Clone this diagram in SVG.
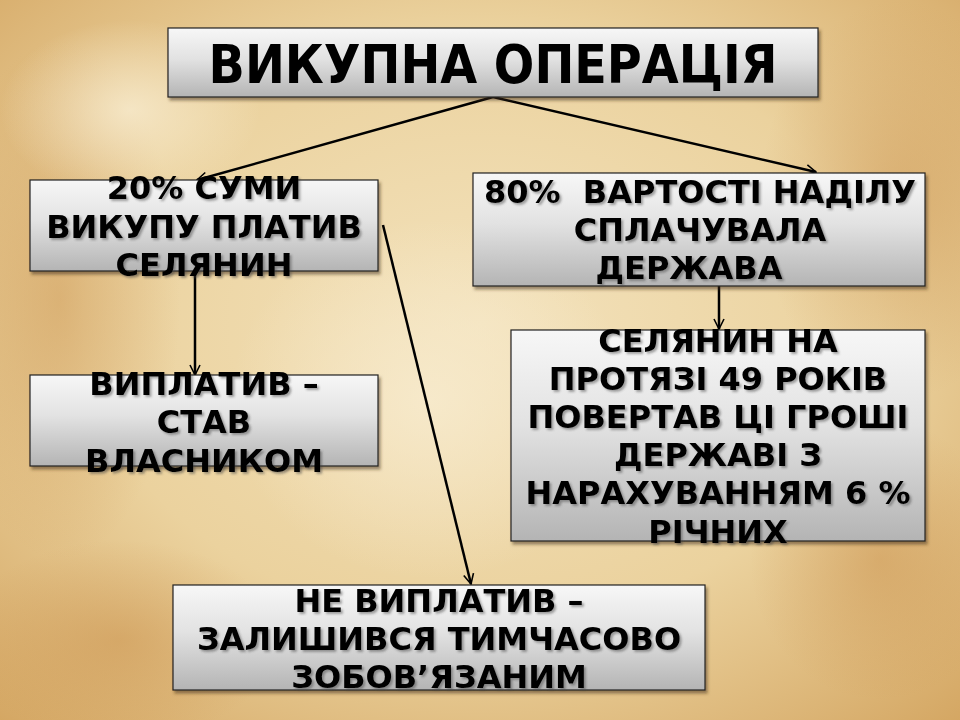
<svg xmlns="http://www.w3.org/2000/svg" width="960" height="720" viewBox="0 0 960 720">
<defs>
<radialGradient id="bg" cx="0.5" cy="0.45" r="0.75">
<stop offset="0" stop-color="#f3e2bc"/>
<stop offset="0.55" stop-color="#ebd29e"/>
<stop offset="1" stop-color="#d4a662"/>
</radialGradient>
<radialGradient id="blot" cx="0.5" cy="0.5" r="0.5">
<stop offset="0" stop-color="#c98f4a" stop-opacity="0.45"/>
<stop offset="1" stop-color="#c98f4a" stop-opacity="0"/>
</radialGradient>
<radialGradient id="light" cx="0.5" cy="0.5" r="0.5">
<stop offset="0" stop-color="#f8ecd0" stop-opacity="0.8"/>
<stop offset="1" stop-color="#f8ecd0" stop-opacity="0"/>
</radialGradient>
<linearGradient id="box" x1="0" y1="0" x2="0" y2="1">
<stop offset="0" stop-color="#f7f7f7"/>
<stop offset="0.45" stop-color="#e2e2e2"/>
<stop offset="1" stop-color="#b4b4b4"/>
</linearGradient>
<filter id="shadow" x="-5%" y="-5%" width="115%" height="120%">
<feDropShadow dx="2" dy="3" stdDeviation="1.5" flood-color="#3a2a10" flood-opacity="0.5"/>
</filter>
<filter id="tsh" x="-5%" y="-10%" width="110%" height="130%">
<feDropShadow dx="2" dy="2" stdDeviation="1" flood-color="#404040" flood-opacity="0.45"/>
</filter>
<marker id="arr" viewBox="0 0 12 12" refX="11" refY="6" markerWidth="12" markerHeight="12" markerUnits="userSpaceOnUse" orient="auto">
<path d="M1,1 L11,6 L1,11" fill="none" stroke="#000" stroke-width="1.6"/>
</marker>
</defs>
<style>
.box{fill:url(#box);stroke:#222;stroke-width:1.2;filter:url(#shadow)}
.t{font-family:"DejaVu Sans","Noto Sans",sans-serif;font-weight:bold;font-size:32px;fill:#000;text-anchor:middle;filter:url(#tsh)}
.title{font-family:"DejaVu Sans Condensed","DejaVu Sans",sans-serif;font-stretch:condensed;font-weight:bold;font-size:53px;fill:#000;text-anchor:middle}
.c{fill:none;stroke:#000;stroke-width:2.5;marker-end:url(#arr)}
</style>
<rect width="960" height="720" fill="url(#bg)"/>
<ellipse cx="60" cy="300" rx="120" ry="260" fill="url(#blot)"/>
<ellipse cx="900" cy="200" rx="140" ry="200" fill="url(#blot)"/>
<ellipse cx="880" cy="560" rx="130" ry="140" fill="url(#blot)"/>
<ellipse cx="120" cy="640" rx="160" ry="100" fill="url(#blot)"/>
<ellipse cx="430" cy="400" rx="200" ry="180" fill="url(#light)"/>
<ellipse cx="130" cy="110" rx="130" ry="90" fill="url(#light)"/>

<g id="connectors">
<line class="c" x1="493" y1="97" x2="197" y2="180"/>
<line class="c" x1="493" y1="97" x2="816" y2="172"/>
<line class="c" x1="195" y1="271" x2="195" y2="375"/>
<line class="c" x1="383" y1="225" x2="471" y2="584"/>
<line class="c" x1="719" y1="286" x2="719" y2="329"/>
</g>

<g id="title">
<rect class="box" x="168" y="28" width="650" height="69"/>
<text class="title" x="493" y="83">ВИКУПНА ОПЕРАЦІЯ</text>
</g>

<g id="n20">
<rect class="box" x="30" y="180" width="348" height="91"/>
<text class="t" x="204" y="199">20% СУМИ</text>
<text class="t" x="204" y="238">ВИКУПУ ПЛАТИВ</text>
<text class="t" x="204" y="276">СЕЛЯНИН</text>
</g>

<g id="n80">
<rect class="box" x="473" y="173" width="452" height="113"/>
<text class="t" x="700" y="203" xml:space="preserve">80%  ВАРТОСТІ НАДІЛУ</text>
<text class="t" x="700" y="241">СПЛАЧУВАЛА</text>
<text class="t" x="689" y="279">ДЕРЖАВА</text>
</g>

<g id="nowner">
<rect class="box" x="30" y="375" width="348" height="91"/>
<text class="t" x="204" y="395">ВИПЛАТИВ –</text>
<text class="t" x="204" y="433">СТАВ</text>
<text class="t" x="204" y="472">ВЛАСНИКОМ</text>
</g>

<g id="n49">
<rect class="box" x="511" y="330" width="414" height="211"/>
<text class="t" x="718" y="352">СЕЛЯНИН НА</text>
<text class="t" x="718" y="390">ПРОТЯЗІ 49 РОКІВ</text>
<text class="t" x="718" y="428">ПОВЕРТАВ ЦІ ГРОШІ</text>
<text class="t" x="718" y="466">ДЕРЖАВІ З</text>
<text class="t" x="718" y="504">НАРАХУВАННЯМ 6 %</text>
<text class="t" x="718" y="543">РІЧНИХ</text>
</g>

<g id="nnot">
<rect class="box" x="173" y="585" width="532" height="105"/>
<text class="t" x="439" y="612">НЕ ВИПЛАТИВ –</text>
<text class="t" x="439" y="650">ЗАЛИШИВСЯ ТИМЧАСОВО</text>
<text class="t" x="439" y="688">ЗОБОВ’ЯЗАНИМ</text>
</g>
</svg>
